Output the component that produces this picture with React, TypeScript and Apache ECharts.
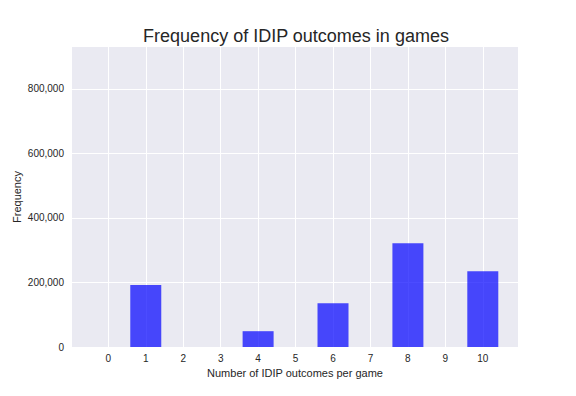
import React, { useEffect, useRef } from "react";
import * as echarts from "echarts";

const outcomes = [1, 4, 6, 8, 10];
const frequencies = [192000, 49000, 136000, 322000, 235000];
const xTicks = [0, 1, 2, 3, 4, 5, 6, 7, 8, 9, 10];
const yTicks = [0, 200000, 400000, 600000, 800000];

export default function App() {
  const ref = useRef<HTMLDivElement>(null);
  useEffect(() => {
    if (!ref.current) return;
    document.body.style.margin = "0";
    const chart = echarts.init(ref.current, null, { renderer: "svg" });
    const font = "'Liberation Sans', Arial, sans-serif";
    chart.setOption({
      animation: false,
      title: {
        text: "Frequency of IDIP outcomes in games",
        left: 291,
        textAlign: "center",
        top: 22,
        textStyle: { fontFamily: font, fontSize: 18, fontWeight: "normal", color: "#262626" },
      },
      grid: {
        left: 72,
        right: 58,
        top: 47,
        bottom: 49,
        show: true,
        backgroundColor: "#EAEAF2",
        borderWidth: 0,
      },
      xAxis: {
        type: "value",
        min: -0.97,
        max: 10.94,
        name: "Number of IDIP outcomes per game",
        nameLocation: "middle",
        nameGap: 15,
        nameTextStyle: { fontFamily: font, fontSize: 11, color: "#262626" },
        axisLine: { show: false },
        axisTick: { show: false, customValues: xTicks },
        axisLabel: {
          customValues: xTicks,
          fontFamily: font,
          fontSize: 10,
          color: "#262626",
          margin: 6,
        },
        splitLine: { show: true, lineStyle: { color: "#ffffff", width: 1 } },
      },
      yAxis: {
        type: "value",
        min: 0,
        max: 930000,
        name: "Frequency",
        nameLocation: "middle",
        nameGap: 50,
        nameMoveOverlap: false,
        nameTextStyle: { fontFamily: font, fontSize: 11, color: "#262626" },
        axisLine: { show: false },
        axisTick: { show: false, customValues: yTicks },
        axisLabel: {
          customValues: yTicks,
          fontFamily: font,
          fontSize: 10,
          color: "#262626",
          margin: 8,
          formatter: (v: number) => v.toLocaleString("en-US"),
        },
        splitLine: { show: true, lineStyle: { color: "#ffffff", width: 1 } },
      },
      series: [
        {
          type: "bar",
          data: outcomes.map((o, i) => [o, frequencies[i]]),
          barWidth: 31,
          itemStyle: { color: "rgba(0,0,255,0.7)" },
        },
      ],
    });
    return () => chart.dispose();
  }, []);
  return <div ref={ref} style={{ width: 576, height: 396 }} />;
}
